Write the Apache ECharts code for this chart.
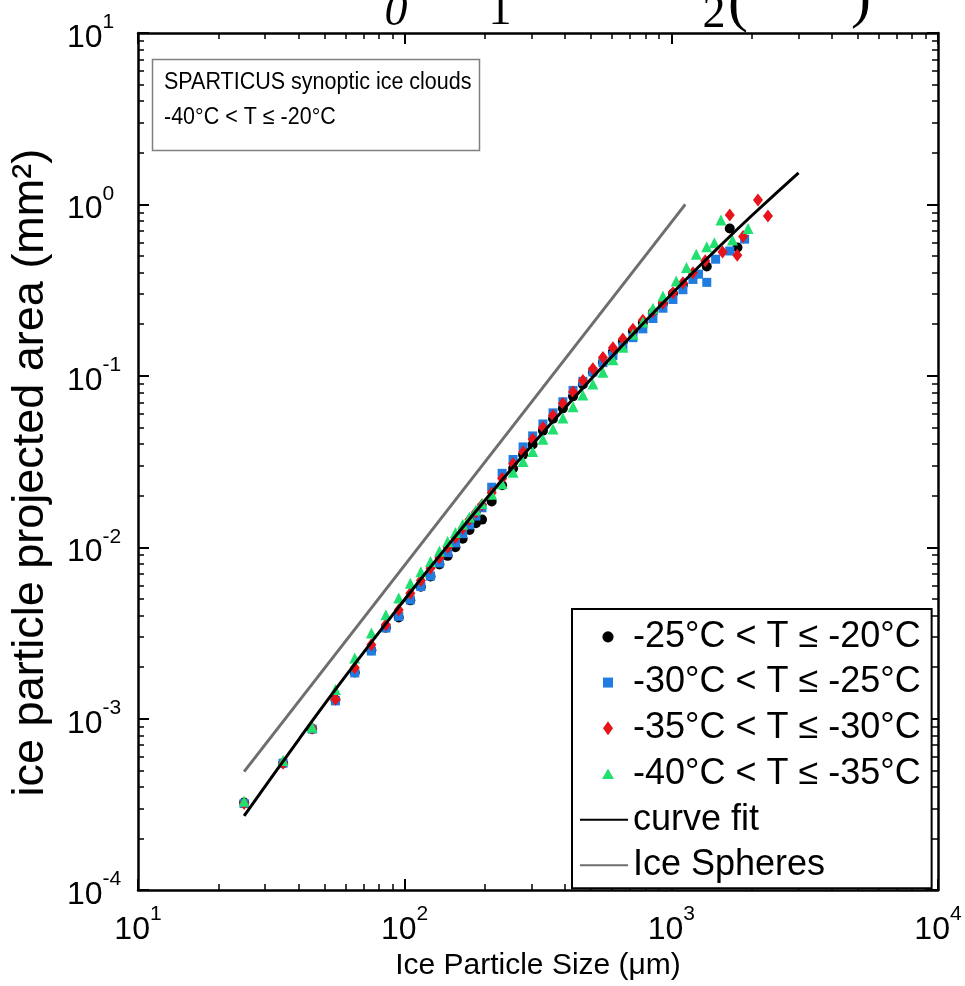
<!DOCTYPE html>
<html><head><meta charset="utf-8">
<script src="https://cdn.jsdelivr.net/npm/echarts@6/dist/echarts.min.js"></script>
<style>html,body{margin:0;padding:0;background:#fff}#c{width:965px;height:986px}</style>
</head><body><div id="c"></div>
<script>
const FONT = '"Liberation Sans", Arial, Helvetica, sans-serif';

// ---- series names ----
const seriesNames = ['-25°C < T ≤ -20°C', '-30°C < T ≤ -25°C', '-35°C < T ≤ -30°C', '-40°C < T ≤ -35°C', 'curve fit', 'Ice Spheres'];

// ---- particle size bins (µm) ----
const sizeBins = [25,35,45,55,65,75,85,95,105,115,125,135,145,155,165,175,185,195,212,232,255,278,302,330,360,392,428,466,508,554,604,658,718,782,853,930,1014,1105,1205];

// ---- -25 < T <= -20 (black circles) ----
const blackD = sizeBins.concat([1358, 1656, 1770]);
const blackA = [3.24e-4,5.5e-4,8.7e-4,1.29e-3,1.86e-3,2.51e-3,3.39e-3,3.89e-3,4.9e-3,5.89e-3,6.76e-3,7.94e-3,8.91e-3,1.0e-2,1.12e-2,1.26e-2,1.38e-2,1.45e-2,1.85e-2,2.3e-2,2.88e-2,3.47e-2,3.98e-2,4.79e-2,5.62e-2,6.46e-2,7.59e-2,8.91e-2,0.105,0.120,0.138,0.158,0.182,0.204,0.234,0.263,0.302,0.339,0.380, 0.434,0.723,0.56];

// ---- -30 < T <= -25 (blue squares) ----
const blueD = sizeBins.concat([1264, 1358, 1466, 1656, 1883]);
const blueA = [3.2e-4,5.5e-4,8.7e-4,1.27e-3,1.85e-3,2.48e-3,3.38e-3,3.95e-3,4.93e-3,5.9e-3,6.8e-3,8.1e-3,9.3e-3,1.06e-2,1.2e-2,1.35e-2,1.52e-2,1.7e-2,2.24e-2,2.7e-2,3.25e-2,3.85e-2,4.46e-2,5.24e-2,6.08e-2,7.06e-2,8.22e-2,9.29e-2,0.1054,0.1194,0.1315,0.148,0.167,0.188,0.216,0.248,0.279,0.318,0.365, 0.392,0.351,0.479,0.535,0.627];

// ---- -35 < T <= -30 (red diamonds) ----
const redD = sizeBins.concat([1340, 1556, 1656, 1767, 1858, 2113, 2303]);
const redA = [3.2e-4,5.5e-4,8.8e-4,1.30e-3,1.98e-3,2.7e-3,3.53e-3,4.3e-3,5.4e-3,6.4e-3,7.55e-3,8.7e-3,1.0e-2,1.14e-2,1.29e-2,1.45e-2,1.6e-2,1.77e-2,2.08e-2,2.52e-2,3.07e-2,3.59e-2,4.26e-2,5.0e-2,5.87e-2,6.9e-2,8.04e-2,9.40e-2,0.110,0.128,0.146,0.164,0.187,0.211,0.237,0.266,0.305,0.349,0.40, 0.47,0.528,0.867,0.505,0.649,1.06,0.855];

// ---- -40 < T <= -35 (green triangles) ----
const greenD = sizeBins.slice(0, 36).concat([1043, 1140, 1240, 1358, 1450, 1535, 1695, 1940]);
const greenA = [3.3e-4,5.7e-4,8.9e-4,1.48e-3,2.26e-3,3.16e-3,4.04e-3,5.05e-3,6.17e-3,7.2e-3,8.26e-3,9.5e-3,1.08e-2,1.22e-2,1.36e-2,1.5e-2,1.65e-2,1.8e-2,2.04e-2,2.35e-2,2.74e-2,3.16e-2,3.62e-2,4.26e-2,4.89e-2,5.68e-2,6.61e-2,7.73e-2,8.97e-2,0.105,0.124,0.147,0.175,0.206,0.248,0.292, 0.358,0.428,0.512,0.567,0.598,0.81,0.62,0.723];

// ---- curve fit ----
const fitD = [25,40,60,100,150,250,400,600,1000,1500,2000,3000];
const fitA = [2.71e-4,7.53e-4,1.77e-3,4.96e-3,1.09e-2,2.83e-2,6.52e-2,0.130,0.299,0.560,0.859,1.53];

// ---- ice spheres ----
const sphD = [25, 1128];
const sphA = [4.91e-4, 1.0];

// ---- tick labels (exponents) & minor ticks ----
const xExp = ['1','2','3','4'];
const yExp = ['-4','-3','-2','-1','0','1'];
const xMinor = [20,30,40,50,60,70,80,90,200,300,400,500,600,700,800,900,2000,3000,4000,5000,6000,7000,8000,9000];
const yMinor = [2e-4,3e-4,4e-4,5e-4,6e-4,7e-4,8e-4,9e-4,2e-3,3e-3,4e-3,5e-3,6e-3,7e-3,8e-3,9e-3,0.02,0.03,0.04,0.05,0.06,0.07,0.08,0.09,0.2,0.3,0.4,0.5,0.6,0.7,0.8,0.9,2,3,4,5,6,7,8,9];

const COLORS = {black: '#000000', blue: '#1f7ce0', red: '#e8141c', green: '#22e070'};

const pairs = (xs, ys) => xs.map((x, i) => [x, ys[i]]);

// legend marker icons (small marker centred in a wide, transparent box)
function svgIcon(inner) {
  return 'image://data:image/svg+xml;charset=utf-8,' + encodeURIComponent(
    "<svg xmlns='http://www.w3.org/2000/svg' width='48' height='14' viewBox='0 0 48 14'>" + inner + "</svg>");
}
const iconCircle = svgIcon("<circle cx='28' cy='7' r='5.6' fill='" + COLORS.black + "'/>");
const iconRect = svgIcon("<rect x='23' y='2' width='10' height='10' fill='" + COLORS.blue + "'/>");
const iconDiamond = svgIcon("<path d='M28 0 L33 7 L28 14 L23 7 Z' fill='" + COLORS.red + "'/>");
const iconTri = svgIcon("<path d='M28 1.5 L34 12 L22 12 Z' fill='" + COLORS.green + "'/>");

const rich = {
  b: {fontSize: 32, lineHeight: 42, verticalAlign: 'bottom', fontFamily: FONT, color: '#000'},
  s: {fontSize: 21, lineHeight: 21, verticalAlign: 'top', fontFamily: FONT, color: '#000'}
};

function xAx(pos, major, withLabel) {
  return {
    type: 'log', logBase: 10, min: 10, max: 10000, position: pos, gridIndex: 0,
    axisLine: {show: major, onZero: false, lineStyle: {color: '#000', width: 2.5}},
    axisTick: major ? {show: true, inside: true, length: 11, lineStyle: {color: '#000', width: 2}}
                    : {show: true, inside: true, length: 6, customValues: xMinor, lineStyle: {color: '#000', width: 1.5}},
    minorTick: {show: false}, splitLine: {show: false},
    axisLabel: withLabel ? {show: true, margin: 14, formatter: (v, i) => '{b|10}{s|' + xExp[i] + '}', rich: rich}
                         : {show: false},
    name: withLabel ? 'Ice Particle Size (μm)' : '',
    nameLocation: 'middle', nameGap: 57,
    nameTextStyle: {fontSize: 30, fontFamily: FONT, color: '#000'}
  };
}
function yAx(pos, major, withLabel) {
  return {
    type: 'log', logBase: 10, min: 1e-4, max: 10, position: pos, gridIndex: 0,
    axisLine: {show: major, onZero: false, lineStyle: {color: '#000', width: 2.5}},
    axisTick: major ? {show: true, inside: true, length: 11, lineStyle: {color: '#000', width: 2}}
                    : {show: true, inside: true, length: 6, customValues: yMinor, lineStyle: {color: '#000', width: 1.5}},
    minorTick: {show: false}, splitLine: {show: false},
    axisLabel: withLabel ? {show: true, margin: 71, align: 'left', formatter: (v, i) => '{b|10}{s|' + yExp[i] + '}', rich: rich}
                         : {show: false},
    name: withLabel ? 'ice particle projected area (mm²)' : '',
    nameLocation: 'middle', nameGap: 85, nameRotate: 90,
    nameTextStyle: {fontSize: 45, fontFamily: FONT, color: '#000', padding: [0, 22, 0, 0]}
  };
}

const hideDot = {opacity: 0};

const chart = echarts.init(document.getElementById('c'), null, {renderer: 'canvas'});
chart.setOption({
  animation: false,
  backgroundColor: '#fff',
  grid: {left: 132, top: 33, right: 27, bottom: 93, containLabel: false},
  xAxis: [xAx('bottom', true, true), xAx('bottom', false, false), xAx('top', true, false), xAx('top', false, false)],
  yAxis: [yAx('left', true, true), yAx('left', false, false), yAx('right', true, false), yAx('right', false, false)],
  legend: {
    orient: 'vertical', left: 572, top: 609,
    itemWidth: 48, itemHeight: 14, itemGap: 0,
    padding: [5, 11, 0, 7],
    borderColor: '#000', borderWidth: 2, backgroundColor: '#fff',
    selectedMode: false,
    textStyle: {fontSize: 36, fontFamily: FONT, color: '#000', lineHeight: 45.7},
    data: [
      {name: seriesNames[0], icon: iconCircle},
      {name: seriesNames[1], icon: iconRect},
      {name: seriesNames[2], icon: iconDiamond},
      {name: seriesNames[3], icon: iconTri},
      {name: seriesNames[4], itemStyle: hideDot},
      {name: seriesNames[5], itemStyle: hideDot}
    ]
  },
  series: [
    {name: seriesNames[0], type: 'scatter', symbol: 'circle', symbolSize: 10, itemStyle: {color: COLORS.black, opacity: 1}, data: pairs(blackD, blackA), z: 2},
    {name: seriesNames[1], type: 'scatter', symbol: 'rect', symbolSize: 9, itemStyle: {color: COLORS.blue, opacity: 1}, data: pairs(blueD, blueA), z: 3},
    {name: seriesNames[2], type: 'scatter', symbol: 'diamond', symbolSize: [10, 13], itemStyle: {color: COLORS.red, opacity: 1}, data: pairs(redD, redA), z: 4},
    {name: seriesNames[3], type: 'scatter', symbol: 'triangle', symbolSize: 11, itemStyle: {color: COLORS.green, opacity: 1}, data: pairs(greenD, greenA), z: 5},
    {name: seriesNames[4], type: 'line', symbol: 'none', smooth: true, lineStyle: {color: '#000', width: 3}, itemStyle: {color: '#000'}, data: pairs(fitD, fitA), z: 6},
    {name: seriesNames[5], type: 'line', symbol: 'none', lineStyle: {color: '#6e6e6e', width: 3}, itemStyle: {color: '#6e6e6e'}, data: pairs(sphD, sphA), z: 6}
  ],
  graphic: [
    {type: 'rect', z: 50, shape: {x: 152.5, y: 59.5, width: 327, height: 91}, style: {fill: '#fff', stroke: '#7f7f7f', lineWidth: 1.5}},
    {type: 'text', z: 51, x: 164, y: 82, scaleY: 1.1, style: {text: 'SPARTICUS synoptic ice clouds', font: '21.5px "Liberation Sans", Arial, sans-serif', fill: '#000', verticalAlign: 'middle'}},
    {type: 'text', z: 51, x: 164, y: 117, scaleY: 1.1, style: {text: '-40°C < T ≤ -20°C', font: '21.5px "Liberation Sans", Arial, sans-serif', fill: '#000', verticalAlign: 'middle'}},
    {type: 'text', z: 51, x: 396, y: 36, style: {text: '0', font: 'italic 46px "Liberation Serif", serif', fill: '#000', align: 'center', verticalAlign: 'bottom'}},
    {type: 'text', z: 51, x: 500, y: 35, style: {text: '1', font: '46px "Liberation Serif", serif', fill: '#000', align: 'center', verticalAlign: 'bottom'}},
    {type: 'text', z: 51, x: 714, y: 38, style: {text: '2', font: '46px "Liberation Serif", serif', fill: '#000', align: 'center', verticalAlign: 'bottom'}},
    {type: 'text', z: 51, x: 738, y: 34, style: {text: '(', font: '60px "Liberation Serif", serif', fill: '#000', align: 'center', verticalAlign: 'bottom'}},
    {type: 'text', z: 51, x: 861, y: 30, style: {text: ')', font: '60px "Liberation Serif", serif', fill: '#000', align: 'center', verticalAlign: 'bottom'}}
  ]
});
</script>
</body></html>
